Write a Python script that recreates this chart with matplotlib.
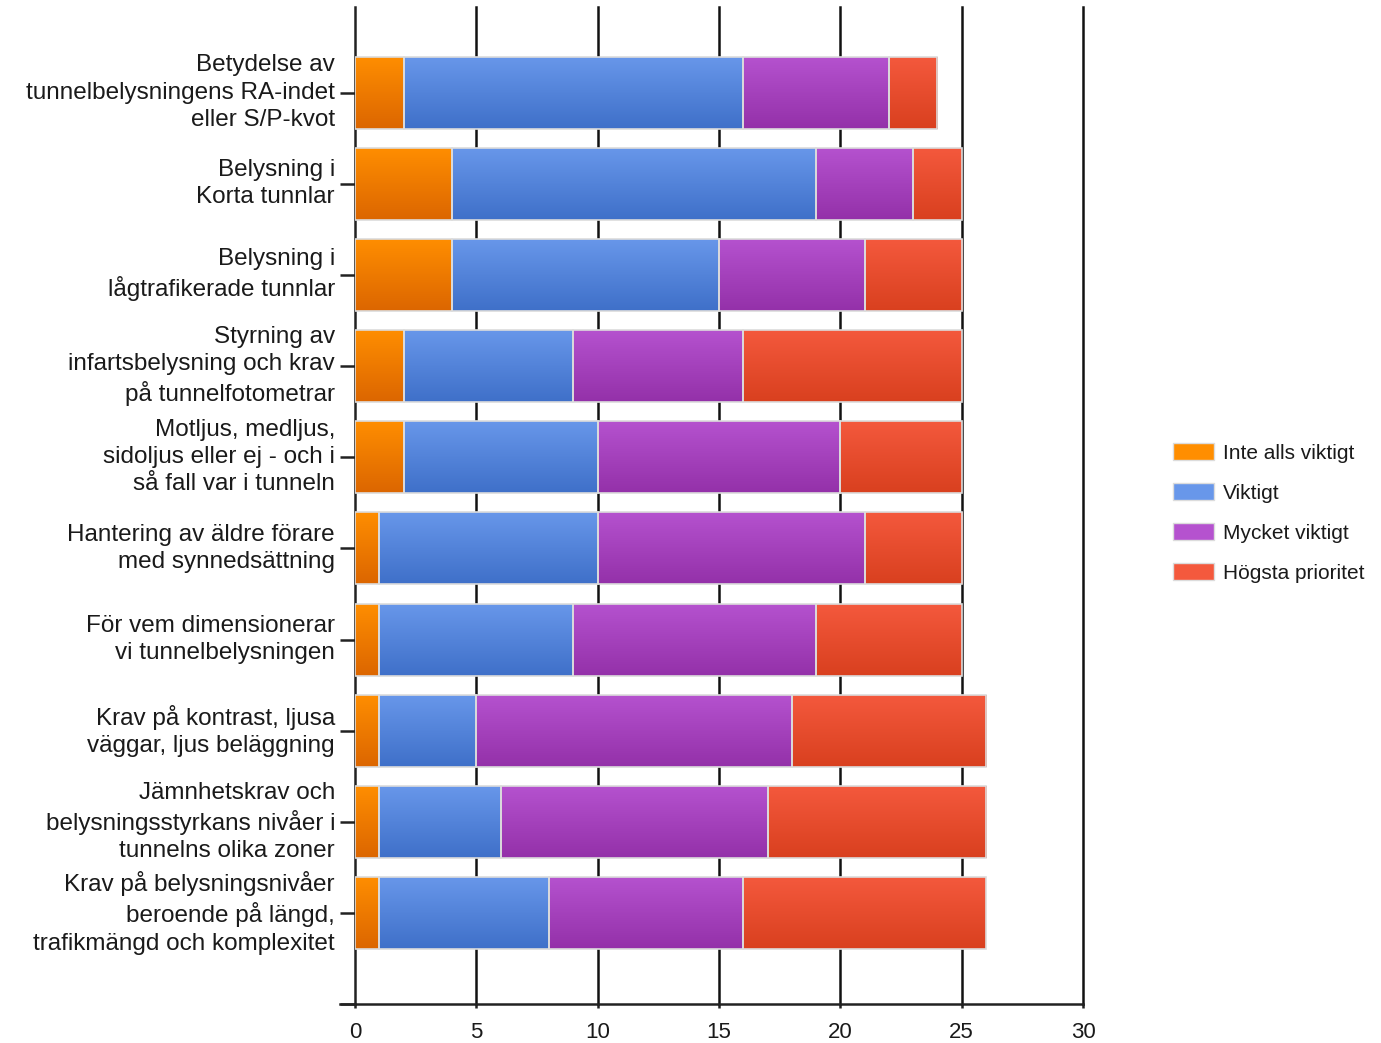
import numpy as np
import matplotlib.pyplot as plt
from matplotlib.patches import Patch

categories = [
    'Betydelse av\ntunnelbelysningens RA-indet\neller S/P-kvot',
    'Belysning i\nKorta tunnlar',
    'Belysning i\nlågtrafikerade tunnlar',
    'Styrning av\ninfartsbelysning och krav\npå tunnelfotometrar',
    'Motljus, medljus,\nsidoljus eller ej - och i\nså fall var i tunneln',
    'Hantering av äldre förare\nmed synnedsättning',
    'För vem dimensionerar\nvi tunnelbelysningen',
    'Krav på kontrast, ljusa\nväggar, ljus beläggning',
    'Jämnhetskrav och\nbelysningsstyrkans nivåer i\ntunnelns olika zoner',
    'Krav på belysningsnivåer\nberoende på längd,\ntrafikmängd och komplexitet',
]
series_names = ['Inte alls viktigt', 'Viktigt', 'Mycket viktigt', 'Högsta prioritet']
inte_alls = [2, 4, 4, 2, 2, 1, 1, 1, 1, 1]
viktigt = [14, 15, 11, 7, 8, 9, 8, 4, 5, 7]
mycket = [6, 4, 6, 7, 10, 11, 10, 13, 11, 8]
hogsta = [2, 2, 4, 9, 5, 4, 6, 8, 9, 10]

# gradient colours (top, bottom) per series
grad = [('#ff8e00', '#dc6600'),
        ('#6897ea', '#3f70c9'),
        ('#b552cf', '#9431a9'),
        ('#f4593d', '#d9401f')]

plt.rcParams['font.family'] = ['Liberation Sans', 'DejaVu Sans']

fig = plt.figure(figsize=(13.81, 10.43), dpi=100)
ax = fig.add_axes([355 / 1381, 1 - 1004 / 1043, (1083 - 355) / 1381, (1004 - 7) / 1043])

y = np.arange(len(categories))
left = np.zeros(len(categories))
for vals, (c_top, c_bot) in zip([inte_alls, viktigt, mycket, hogsta], grad):
    bars = ax.barh(y, vals, left=left, height=0.79, color=c_bot,
                   edgecolor='#dcdcdc', linewidth=1.2, zorder=3)
    cmap = plt.matplotlib.colors.LinearSegmentedColormap.from_list('g', [c_top, c_bot])
    for b in bars:
        x0, y0 = b.get_x(), b.get_y()
        w, h = b.get_width(), b.get_height()
        im = ax.imshow(np.linspace(0, 1, 64).reshape(-1, 1), cmap=cmap, aspect='auto',
                       extent=[x0, x0 + w, y0 + h, y0], zorder=2.9,
                       interpolation='bilinear')
        im.set_clip_path(b)
        b.set_facecolor('none')
    left += np.array(vals)

ax.set_xlim(0, 30)
ax.set_ylim(9.998, -0.938)
ax.set_xticks([0, 5, 10, 15, 20, 25, 30])
ax.set_yticks(list(y) + [9.998])
ax.set_yticklabels(categories + [''], fontsize=17.5, color='#1a1a1a', linespacing=1.3,
                   va='center')
ax.tick_params(axis='y', length=10.8, width=1.8, color='#222222', pad=3.6)
ax.tick_params(axis='x', length=3, width=1.8, color='#222222', labelsize=16,
               labelcolor='#1a1a1a', pad=10)

for xv in [5, 10, 15, 20, 25, 30]:
    ax.axvline(xv, color='#111111', linewidth=1.8, zorder=1, clip_on=False)

for s in ['top', 'right']:
    ax.spines[s].set_visible(False)
for s in ['left', 'bottom']:
    ax.spines[s].set_linewidth(1.8)
    ax.spines[s].set_color('#222222')
# extend x axis line left to match the tick
ax.plot([-0.62, 0], [9.998, 9.998], color='#222222', lw=1.8, clip_on=False, zorder=4)

handles = [Patch(facecolor=((c[0])), edgecolor='#dcdcdc') for c in grad]
fig.legend(handles, series_names, loc='center left', bbox_to_anchor=(1154 / 1381, 1 - 513 / 1043),
           frameon=False, fontsize=15, handlelength=2.0, handleheight=0.85,
           labelspacing=0.98, handletextpad=0.4, labelcolor='#1a1a1a')

fig.savefig('out.png', dpi=100)
